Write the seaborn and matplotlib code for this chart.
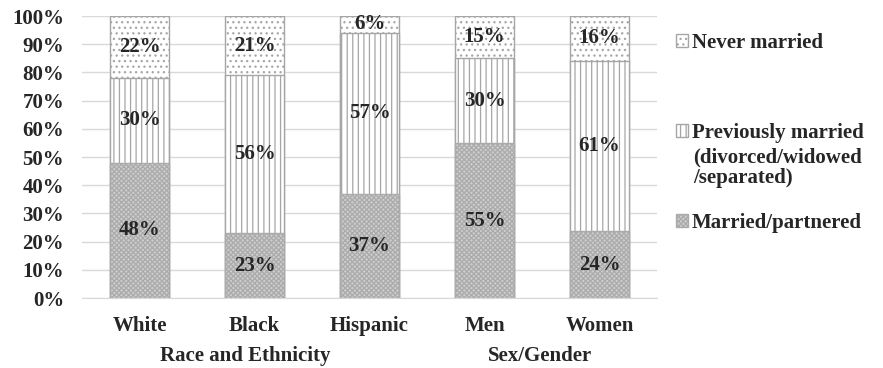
"""
Marital status by race/ethnicity and sex/gender, 100% stacked bars.
"""

import pandas as pd
import matplotlib.pyplot as plt
import seaborn as sns
import numpy as np

# Data (percent)
groups = ["White", "Black", "Hispanic", "Men", "Women"]
married = [48, 23, 37, 55, 24]
previously = [30, 56, 57, 30, 61]
never = [22, 21, 6, 15, 16]

group_labels = ["Race and Ethnicity", "Sex/Gender"]
group_label_pos = [0.92, 3.48]

# legend order, top to bottom
legend_names = ["Never married", "Previously married", "Married/partnered"]
legend_extra = ["(divorced/widowed", "/separated)"]

FS = 15


def build_frame():
    df = pd.DataFrame({"Group": groups, "Married": married,
                       "Previously": previously, "Never": never})
    total = df[["Married", "Previously", "Never"]].sum(axis=1)
    # Excel 100% stacked: every column scaled to its own total
    df["m"] = df["Married"] / total
    df["p"] = df["Previously"] / total
    df["n"] = df["Never"] / total
    df["cum_m"] = df["m"]
    df["cum_p"] = df["m"] + df["p"]
    df["cum_n"] = df["cum_p"] + df["n"]
    return df


def plot(df):
    sns.set_style("white")
    plt.rcParams["font.family"] = ["Liberation Serif", "DejaVu Serif"]
    plt.rcParams["font.weight"] = "bold"
    plt.rcParams["hatch.linewidth"] = 0.9

    fig = plt.figure(figsize=(8.83, 3.68), dpi=100)
    ax = fig.add_axes([0.093, 0.19, 0.651, 0.7665])

    width = 0.52
    # draw from the top of the stack down, each layer covers the one before
    sns.barplot(data=df, x="Group", y="cum_n", ax=ax, width=width,
                color="white", edgecolor="#a6a6a6", hatch="...",
                linewidth=1.0, saturation=1)
    sns.barplot(data=df, x="Group", y="cum_p", ax=ax, width=width,
                color="white", edgecolor="#a6a6a6", hatch="|||",
                linewidth=1.0, saturation=1)
    sns.barplot(data=df, x="Group", y="cum_m", ax=ax, width=width,
                color="#cdcdcd", edgecolor="#ababab", hatch="xxxxxxx",
                linewidth=1.0, saturation=1)

    # segment labels
    for i, row in df.iterrows():
        ax.text(i, row["m"] / 2, f"{row['Married']}%", ha="center",
                va="center", fontsize=FS, fontweight="bold")
        ax.text(i, row["cum_m"] + row["p"] / 2, f"{row['Previously']}%",
                ha="center", va="center", fontsize=FS, fontweight="bold")
        ax.text(i, row["cum_p"] + row["n"] / 2, f"{row['Never']}%",
                ha="center", va="center", fontsize=FS, fontweight="bold")

    ax.set_ylim(0, 1)
    ax.set_xlim(-0.5, len(groups) - 0.5)
    ticks = np.arange(0, 1.01, 0.1)
    ax.set_yticks(ticks)
    ax.set_yticklabels([f"{int(round(v * 100))}%" for v in ticks])
    ax.yaxis.grid(True, color="#d9d9d9", linewidth=1.0)
    ax.set_axisbelow(True)
    for s in ["left", "right", "top"]:
        ax.spines[s].set_visible(False)
    ax.spines["bottom"].set_color("#d9d9d9")
    ax.tick_params(axis="y", length=0, labelsize=FS, pad=13)
    ax.tick_params(axis="x", length=0, labelsize=FS, pad=13)
    for lab in ax.get_xticklabels() + ax.get_yticklabels():
        lab.set_fontweight("bold")
    ax.set_xlabel("")
    ax.set_ylabel("")

    # second level of category labels
    for name, pos in zip(group_labels, group_label_pos):
        ax.text(pos, -0.205, name, transform=ax.get_xaxis_transform(),
                ha="center", va="center", fontsize=FS, fontweight="bold")

    # legend, one entry per box like Excel spreads them
    layers = ax.containers  # never, previously, married
    handles = [layers[0].patches[0], layers[1].patches[0], layers[2].patches[0]]
    legend_y = [0.883, 0.639, 0.394]
    for h, name, y in zip(handles, legend_names, legend_y):
        fig.legend([h], [name], loc="center left", bbox_to_anchor=(0.7445, y),
                   frameon=False, handlelength=0.55, handleheight=0.55,
                   handletextpad=0.2, prop={"weight": "bold", "size": FS})
    for txt, y in zip(legend_extra, [0.573, 0.516]):
        fig.text(0.785, y, txt, fontsize=FS, fontweight="bold", va="center")

    plt.savefig("out.png", dpi=100)


if __name__ == "__main__":
    plot(build_frame())
